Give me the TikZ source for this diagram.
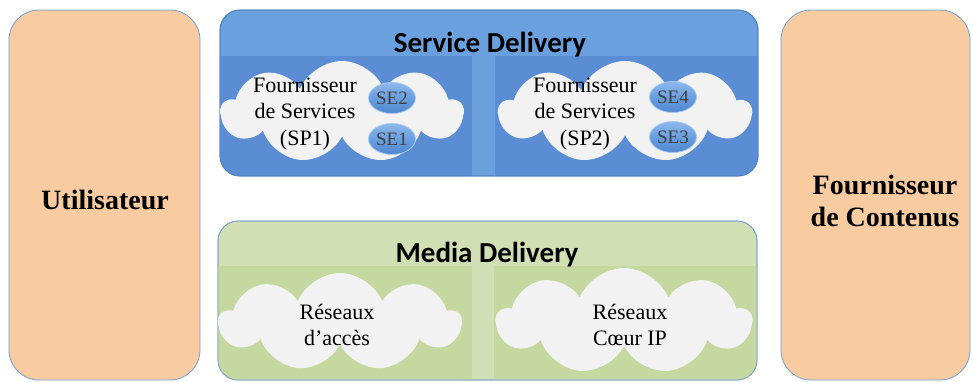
\documentclass[tikz,border=0pt]{standalone}
\usepackage{fontspec}
\setmainfont{Liberation Serif}
\newfontfamily\titlefont{Carlito}
\usetikzlibrary{shapes.symbols,shapes.geometric}
\definecolor{peach}{HTML}{F9CBA0}
\definecolor{sideborder}{HTML}{6F9FD6}
\definecolor{sdout}{HTML}{6AA0DE}
\definecolor{sdin}{HTML}{5A8DD4}
\definecolor{sdborder}{HTML}{4F81BD}
\definecolor{mdout}{HTML}{D0E0B4}
\definecolor{mdin}{HTML}{C4D8A0}
\definecolor{mdborder}{HTML}{7AA0D0}
\definecolor{cloudfill}{HTML}{F2F2F2}
\definecolor{setop}{HTML}{8DB8EC}
\definecolor{sebot}{HTML}{4E86CF}
\definecolor{seborder}{HTML}{A9C8EE}
\definecolor{sefill}{HTML}{6A9FE0}
\tikzset{
  sidebox/.style={draw=sideborder, line width=0.8pt, fill=peach, rounded corners=30pt},
  sidetext/.style={font=\fontsize{28}{32}\selectfont\bfseries, align=center},
  cloudshape/.style={cloud, cloud puffs=9, cloud puff arc=135, aspect=2.2, fill=cloudfill, inner sep=0pt},
  cloudtext/.style={font=\fontsize{22}{26.5}\selectfont, align=center},
  seshape/.style={ellipse, top color=setop, bottom color=sebot, middle color=sefill, draw=seborder, line width=0.8pt, minimum width=47pt, minimum height=31pt, inner sep=0pt, font=\fontsize{19}{21}\selectfont, text=black!75},
  titletext/.style={font=\titlefont\fontsize{29}{32}\selectfont\bfseries}
}
\begin{document}
\begin{tikzpicture}[x=1pt,y=-1pt]
\useasboundingbox (0,0) rectangle (973,381);
\clip (0,0) rectangle (973,381);
% side boxes
\draw[sidebox] (9,10) rectangle (200,380);
\node[sidetext] (user) at (105,200) {Utilisateur};
\draw[sidebox] (781,10) rectangle (970,380);
\node[sidetext] (cp) at (885,201) {Fournisseur\\de Contenus};
% service delivery
\draw[draw=sdborder, line width=0.8pt, fill=sdout, rounded corners=20pt] (220,10) rectangle (758,176);
\begin{scope}
\clip[rounded corners=20pt] (220,10) rectangle (758,176);
\fill[sdin] (219,56) rectangle (472,177);
\fill[sdin] (495,56) rectangle (759,177);
\end{scope}
\draw[draw=sdborder, line width=0.8pt, rounded corners=20pt] (220,10) rectangle (758,176);
\node[titletext] (sd) at (490,45) {Service Delivery};
\node[cloudshape, minimum width=242pt, minimum height=102pt] (c1) at (342,112) {};
\node[cloudtext] (t1) at (305,114) {Fournisseur\\de Services\\(SP1)};
\node[seshape] (se2) at (392,98) {SE2};
\node[seshape] (se1) at (392,139) {SE1};
\node[cloudshape, minimum width=252pt, minimum height=102pt] (c2) at (625,112) {};
\node[cloudtext] (t2) at (585,114) {Fournisseur\\de Services\\(SP2)};
\node[seshape] (se4) at (673,97) {SE4};
\node[seshape] (se3) at (673,137) {SE3};
% media delivery
\draw[draw=mdborder, line width=0.8pt, fill=mdout, rounded corners=20pt] (218,221) rectangle (757,380);
\begin{scope}
\clip[rounded corners=20pt] (218,221) rectangle (757,380);
\fill[mdin] (217,266) rectangle (472,381);
\fill[mdin] (494,266) rectangle (758,381);
\end{scope}
\draw[draw=mdborder, line width=0.8pt, rounded corners=20pt] (218,221) rectangle (757,380);
\node[titletext] (md) at (487,255) {Media Delivery};
\node[cloudshape, minimum width=242pt, minimum height=98pt] (c3) at (340,322) {};
\node[cloudtext] (t3) at (337,325) {Réseaux\\d’accès};
\node[cloudshape, minimum width=255pt, minimum height=106pt] (c4) at (624,321) {};
\node[cloudtext] (t4) at (630,325) {Réseaux\\Cœur IP};
\end{tikzpicture}
\end{document}
